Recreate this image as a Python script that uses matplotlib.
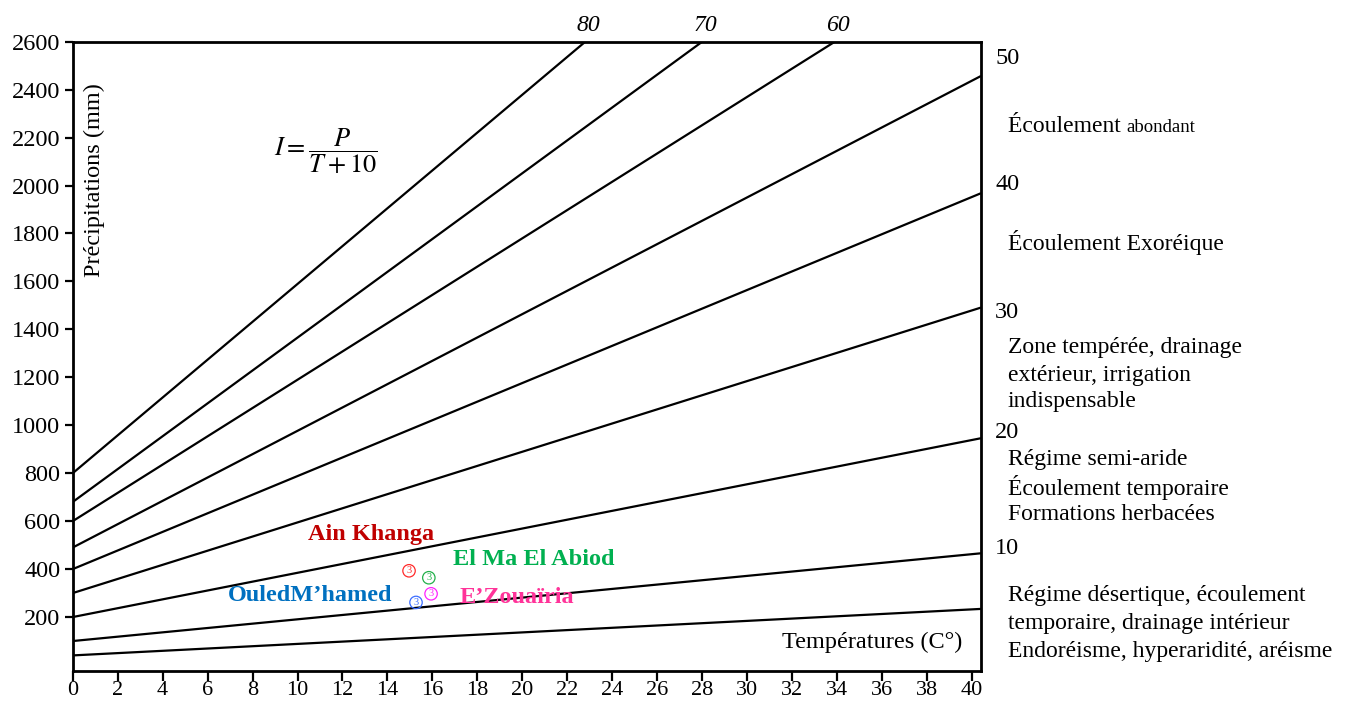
import matplotlib
matplotlib.use("Agg")
import matplotlib.pyplot as plt

# De Martonne aridity index chart: I = P / (T + 10)
index_values = [80, 70, 60, 50, 40, 30, 20, 10, 5]
p_at_zero = [800, 680, 600, 490, 400, 300, 200, 100, 40]
t_end = [22.8, 28.0, 33.9, 40.4, 40.4, 40.4, 40.4, 40.4, 40.4]
p_end = [2600, 2600, 2600, 2457, 1968, 1491, 946, 466, 234]

stations = ["Ain Khanga", "El Ma El Abiod", "E\u2019Zouaïria", "OuledM\u2019hamed"]
station_temp = [14.96, 15.84, 15.94, 15.27]
station_precip = [393, 364, 297, 261]
station_marker_colors = ["#ff2a2a", "#22b04a", "#ff22ff", "#3a6cff"]
station_label_colors = ["#c00000", "#00b050", "#ff3399", "#0070c0"]
station_label_pos = [(10.47, 545), (16.9, 440), (17.2, 283), (6.9, 290)]

x_ticks = list(range(0, 41, 2))
y_ticks = list(range(200, 2601, 200))

zone_numbers = ["50", "40", "30", "20", "10"]
zone_number_y = [58, 185, 312, 433, 548]
zone_lines = [
    ("Écoulement Exoréique", 242),
    ("Zone tempérée, drainage", 347),
    ("extérieur, irrigation", 375),
    ("indispensable", 402),
    ("Régime semi-aride", 459),
    ("Écoulement temporaire", 487),
    ("Formations herbacées", 514),
    ("Régime désertique, écoulement", 595),
    ("temporaire, drainage intérieur", 623),
    ("Endoréisme, hyperaridité, aréisme", 651),
]

plt.rcParams["font.family"] = ["Liberation Serif", "DejaVu Serif"]
plt.rcParams["mathtext.fontset"] = "stix"

W, H = 1355, 701
fig = plt.figure(figsize=(W / 100, H / 100), dpi=100)
ax_l, ax_r, ax_t, ax_b = 72.7, 981, 41.7, 671
ax = fig.add_axes([ax_l / W, 1 - ax_b / H, (ax_r - ax_l) / W, (ax_b - ax_t) / H])

for p0, t1, p1 in zip(p_at_zero, t_end, p_end):
    ax.plot([0, t1], [p0, p1], color="black", lw=1.6, solid_capstyle="butt")

# index labels above the top frame for the steep lines
for iv, t1, p1 in zip(index_values, t_end, p_end):
    if p1 >= 2600:
        ax.annotate(str(iv), (t1, p1), xytext=(2, 11.5), textcoords="offset points",
                    ha="center", va="center", fontsize=17, style="italic",
                    annotation_clip=False)

# stations
for t, p, mc in zip(station_temp, station_precip, station_marker_colors):
    ax.scatter([t], [p], s=80, facecolors="none", edgecolors=mc, linewidths=0.9, zorder=3)
    ax.text(t, p, "3", color=mc, fontsize=7.5, ha="center", va="center", zorder=4)

for name, (tx, py), c in zip(stations, station_label_pos, station_label_colors):
    ax.text(tx, py, name, color=c, fontsize=17.5, fontweight="bold", ha="left", va="center")

ax.set_xlim(0, 40.4)
ax.set_ylim(-25, 2600)
ax.set_xticks(x_ticks)
ax.set_xticklabels([str(v) for v in x_ticks])
ax.set_yticks(y_ticks)
ax.set_yticklabels([str(v) for v in y_ticks])
ax.tick_params(axis="both", direction="out", width=1.6)
ax.tick_params(axis="y", length=6, pad=3, labelsize=17.5)
ax.tick_params(axis="x", length=7, pad=0, labelsize=16)
for s in ax.spines.values():
    s.set_linewidth(2.0)

ax.text(0.012, 0.78, "Précipitations (mm)", transform=ax.transAxes, rotation=90,
        fontsize=17.5, ha="left", va="center")
ax.text(0.98, 0.045, "Températures (C°)", transform=ax.transAxes,
        fontsize=17.5, ha="right", va="center")
ax.text(0.222, 0.825, r"$I=\dfrac{P}{T+10}$", transform=ax.transAxes,
        fontsize=19, ha="left", va="center")

# zone descriptions on the right
for lab, yp in zip(zone_numbers, zone_number_y):
    fig.text(995 / W, 1 - yp / H, lab, fontsize=17.5, ha="left", va="center")

t1 = fig.text(1008 / W, 1 - 127 / H, "Écoulement ", fontsize=17, ha="left", va="center")
fig.canvas.draw()
bb = t1.get_window_extent()
fig.text(bb.x1 / W, 1 - 127 / H, "abondant", fontsize=13.5, ha="left", va="center")

for lab, yp in zone_lines:
    fig.text(1008 / W, 1 - yp / H, lab, fontsize=17, ha="left", va="center")

fig.savefig("out.png", dpi=100)
